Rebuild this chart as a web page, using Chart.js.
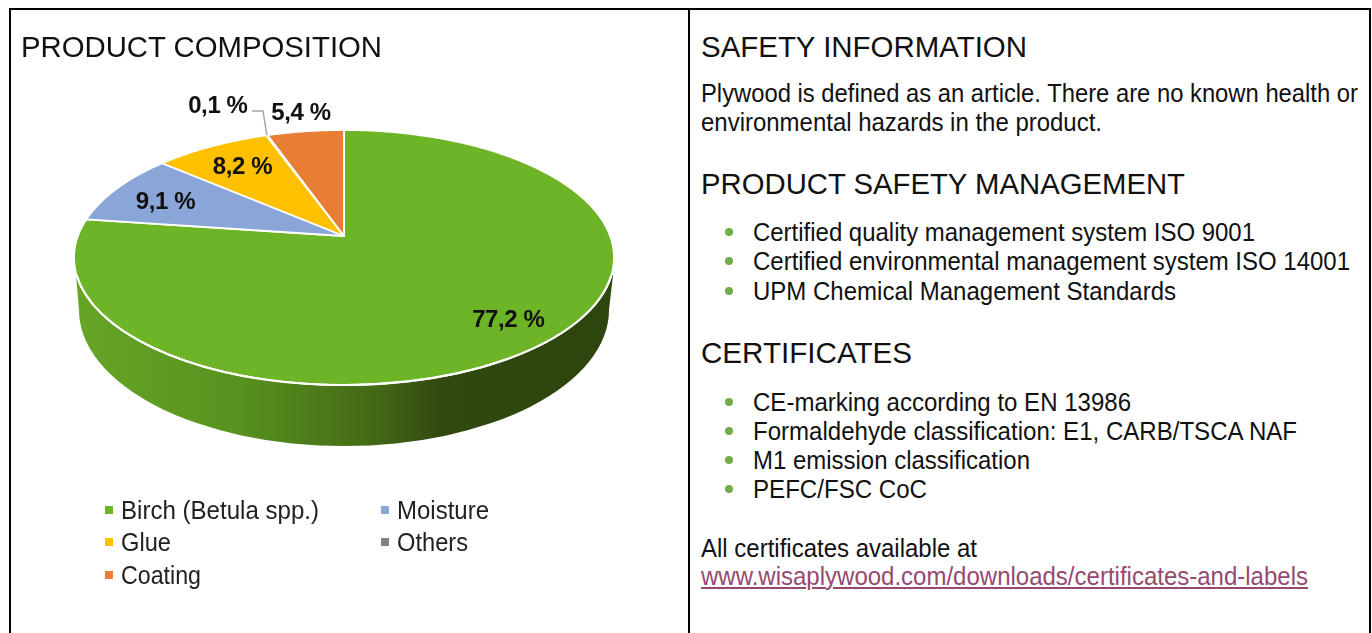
<!DOCTYPE html>
<html><head><meta charset="utf-8">
<style>
html,body{margin:0;padding:0;background:#fff;width:1372px;height:633px;overflow:hidden}
body{font-family:"Liberation Sans",Arial,sans-serif;color:#111;position:relative}
.r{position:absolute;background:#000}
.t{position:absolute;white-space:nowrap;line-height:1em}
.m{position:absolute}
canvas{position:absolute;left:0;top:0}
a{color:#95496f;text-decoration:underline;text-decoration-thickness:1.5px;text-underline-offset:2px}
</style></head><body>
<div class="r" style="left:9px;top:8px;width:1362px;height:2px"></div>
<div class="r" style="left:9px;top:8px;width:2px;height:625px"></div>
<div class="r" style="left:688px;top:8px;width:2px;height:625px"></div>
<div class="r" style="left:1369px;top:8px;width:2px;height:625px"></div>
<canvas id="c" width="689" height="633"></canvas>
<script src="https://cdn.jsdelivr.net/npm/chart.js@4"></script>
<script>
const categories = ["Birch (Betula spp.)","Moisture","Glue","Others","Coating"];
const values = [77.2,9.1,8.2,0.1,5.4];
const valueLabels = ["77,2 %","9,1 %","8,2 %","0,1 %","5,4 %"];
const colors = ["#6db427","#8aa6d8","#ffc000","#808080","#e97d33"];
const labelRadius = [0.84,0.78,0.75,1.38,1.2];
const labelShift = [[0,-4],[1,4],[1,1],[-25,2],[2,0]];

const CX=344,CY=236,A=266.1,B=123.9,K=0.1686;
function project(angle,r){
  const t=angle+Math.PI/2,u=Math.sin(t)*r,v=Math.cos(t)*r,w=1+K*v;
  return [CX+A*u/w,CY-B*v/w];
}
const pie3d={
  id:'pie3d',
  beforeDatasetDraw(chart){
    const ctx=chart.ctx,arcs=chart.getDatasetMeta(0).data;
    ctx.save();
    // rim of the disc
    const g=ctx.createLinearGradient(76,0,612,0);
    g.addColorStop(0,'#66a626');g.addColorStop(.3,'#58921f');g.addColorStop(.47,'#4b7819');
    g.addColorStop(.58,'#416414');g.addColorStop(.68,'#30490f');g.addColorStop(1,'#2d450e');
    ctx.beginPath();
    ctx.moveTo(76,275);
    ctx.lineTo(79,310);
    ctx.ellipse(344,310,265,136,0,Math.PI,0,true);
    ctx.lineTo(613,275);
    ctx.ellipse(344,257.5,270,127.5,0,0.14,Math.PI-0.14,false);
    ctx.closePath();ctx.fillStyle=g;ctx.fill();
    // top face
    arcs.forEach((a,i)=>{
      const p=a.getProps(['startAngle','endAngle'],true);
      ctx.beginPath();
      let q=project(0,0);ctx.moveTo(q[0],q[1]);
      const n=Math.max(2,Math.ceil((p.endAngle-p.startAngle)*120));
      for(let s=0;s<=n;s++){q=project(p.startAngle+(p.endAngle-p.startAngle)*s/n,1);ctx.lineTo(q[0],q[1]);}
      ctx.closePath();
      ctx.fillStyle=colors[i];ctx.fill();
      ctx.lineWidth=1.8;ctx.strokeStyle='#fff';ctx.lineJoin='round';ctx.stroke();
    });
    // bright front edge
    ctx.beginPath();
    ctx.ellipse(344,257.5,270,127.5,0,0.14,Math.PI-0.14,false);
    ctx.lineWidth=2.2;ctx.strokeStyle='#fff';ctx.stroke();
    // leader for the small slice
    const oth=arcs[3].getProps(['startAngle','endAngle'],true);
    const e=project((oth.startAngle+oth.endAngle)/2,1);
    ctx.beginPath();ctx.moveTo(e[0],e[1]);ctx.lineTo(263,111);ctx.lineTo(252,111);
    ctx.lineWidth=1.5;ctx.strokeStyle='#a6a6a6';ctx.stroke();
    // value labels
    ctx.font='bold 24px "Liberation Sans",Arial,sans-serif';
    ctx.letterSpacing='-0.4px';
    ctx.fillStyle='#111';ctx.textAlign='center';ctx.textBaseline='middle';
    arcs.forEach((a,i)=>{
      const p=a.getProps(['startAngle','endAngle'],true);
      const m=project((p.startAngle+p.endAngle)/2,labelRadius[i]);
      ctx.fillText(valueLabels[i],m[0]+labelShift[i][0],m[1]+labelShift[i][1]);
    });
    ctx.restore();
    return false;
  }
};
new Chart(document.getElementById('c'),{
  type:'pie',
  data:{labels:categories,datasets:[{data:values,backgroundColor:colors,borderColor:'#fff'}]},
  options:{responsive:false,animation:false,rotation:0,
    plugins:{legend:{display:false},tooltip:{enabled:false}}},
  plugins:[pie3d]
});

// page text: string, left, baseline, size, right edge
const texts=[
 ["PRODUCT COMPOSITION",21,57,30,382],
 ["SAFETY INFORMATION",701,57,30,1027],
 ["Plywood is defined as an article. There are no known health or",701,102,25,1358],
 ["environmental hazards in the product.",701,131,25,1102],
 ["PRODUCT SAFETY MANAGEMENT",701,194,30,1185],
 ["Certified quality management system ISO 9001",753,241,25,1255],
 ["Certified environmental management system ISO 14001",753,270,25,1350],
 ["UPM Chemical Management Standards",753,300,25,1176],
 ["CERTIFICATES",701,363,30,912],
 ["CE-marking according to EN 13986",753,411,25,1131],
 ["Formaldehyde classification: E1, CARB/TSCA NAF",753,440,25,1297],
 ["M1 emission classification",753,469,25,1030],
 ["PEFC/FSC CoC",753,498,25,927],
 ["All certificates available at",701,557,25,977],
];
function place(str,x,base,size,right,tag){
  const el=document.createElement(tag||'div');
  el.className='t';el.textContent=str;
  el.style.left=x+'px';el.style.top=(base-0.8465*size)+'px';el.style.fontSize=size+'px';
  document.body.appendChild(el);
  const w=el.getBoundingClientRect().width;
  el.style.transformOrigin='0 0';
  el.style.transform=`scaleX(${(right-x)/w})`;
  return el;
}
texts.forEach(t=>place(...t));
const link=place("www.wisaplywood.com/downloads/certificates-and-labels",701,585,25,1308,'a');
link.href="#";
[232,261,291,402,431,460,489].forEach(y=>{
  const d=document.createElement('div');d.className='m';
  d.style.cssText+=`left:725px;top:${y-4}px;width:8px;height:8px;border-radius:50%;background:#70ad47`;
  document.body.appendChild(d);
});
// legend, two columns, from the chart's categories
const legendOrder=[[0,121,519,319],[1,397,519,489],[2,121,551,171],[4,121,584,201],[3,397,551,468]];
legendOrder.forEach(([i,x,b,r])=>{
  const e=place(categories[i],x,b,25,r);e.style.color='#222';
  const m=document.createElement('div');m.className='m';
  m.style.cssText+=`left:${x-16}px;top:${b-13}px;width:8px;height:8px;background:${colors[i]}`;
  document.body.appendChild(m);
});
</script>
</body></html>
